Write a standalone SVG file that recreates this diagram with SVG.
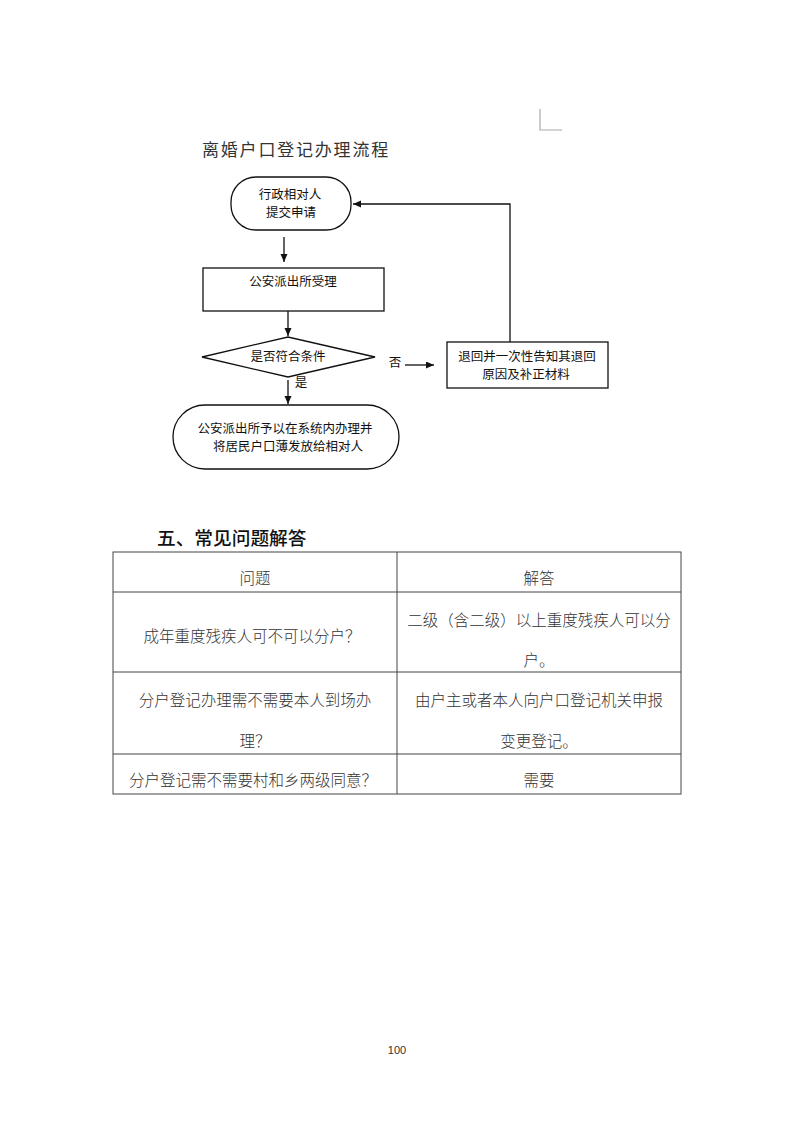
<svg xmlns="http://www.w3.org/2000/svg" width="793" height="1122" viewBox="0 0 793 1122">
<style>
.fc{font-family:"Noto Sans CJK SC","Noto Sans CJK JP",sans-serif;font-size:12.5px;fill:#111;text-anchor:middle}
.shape{fill:#fff;stroke:#111;stroke-width:1.3}
.conn{fill:none;stroke:#111;stroke-width:1.3}
.tb{font-family:"Noto Sans CJK SC","Noto Sans CJK JP",sans-serif;font-size:15.5px;font-weight:300;fill:#333;text-anchor:middle}
.grid{stroke:#444;stroke-width:1;fill:none}
</style>
<defs>
<marker id="ah" markerUnits="userSpaceOnUse" markerWidth="9" markerHeight="8" refX="8" refY="3.5" orient="auto">
<path d="M0,0 L8,3.5 L0,7 z" fill="#111"/>
</marker>
</defs>
<rect width="793" height="1122" fill="#fff"/>
<path d="M540,109 V130 H562" fill="none" stroke="#aaa" stroke-width="1.2"/>
<text x="202" y="156" font-family="Noto Sans CJK SC, sans-serif" font-size="17" letter-spacing="1.8" fill="#333">离婚户口登记办理流程</text>

<g id="connectors">
<line class="conn" x1="284" y1="237" x2="284" y2="262" marker-end="url(#ah)"/>
<line class="conn" x1="288" y1="311" x2="288" y2="336" marker-end="url(#ah)"/>
<line class="conn" x1="288" y1="380" x2="288" y2="404" marker-end="url(#ah)"/>
<line class="conn" x1="405" y1="365" x2="434" y2="365" marker-end="url(#ah)"/>
<polyline class="conn" points="510,342 510,204 353,204" marker-end="url(#ah)"/>
<text class="fc" x="301" y="387">是</text>
<text class="fc" x="395" y="367">否</text>
</g>

<g id="start">
<rect class="shape" x="231" y="177" width="120" height="53" rx="25" ry="25"/>
<text class="fc" x="290" y="199">行政相对人</text>
<text class="fc" x="291" y="217">提交申请</text>
</g>
<g id="accept">
<rect class="shape" x="203" y="268" width="181" height="43"/>
<text class="fc" x="293" y="286">公安派出所受理</text>
</g>
<g id="decision">
<polygon class="shape" points="202,357 288,337 375,357 288,377"/>
<text class="fc" x="288" y="361">是否符合条件</text>
</g>
<g id="end">
<rect class="shape" x="173" y="405" width="226" height="64" rx="32" ry="32"/>
<text class="fc" x="285" y="433">公安派出所予以在系统内办理并</text>
<text class="fc" x="288" y="451">将居民户口薄发放给相对人</text>
</g>
<g id="return">
<rect class="shape" x="447" y="342" width="161" height="46"/>
<text class="fc" x="527" y="361">退回并一次性告知其退回</text>
<text class="fc" x="526" y="379">原因及补正材料</text>
</g>

<text x="157" y="545" font-family="Noto Sans CJK SC, sans-serif" font-size="18.7" font-weight="500" fill="#111">五、常见问题解答</text>

<g id="table">
<rect class="grid" x="113" y="552" width="568" height="242"/>
<line class="grid" x1="397" y1="552" x2="397" y2="794"/>
<line class="grid" x1="113" y1="592" x2="681" y2="592"/>
<line class="grid" x1="113" y1="672" x2="681" y2="672"/>
<line class="grid" x1="113" y1="754" x2="681" y2="754"/>
<text class="tb" x="255" y="584">问题</text>
<text class="tb" x="539" y="584">解答</text>
<text class="tb" x="252" y="642">成年重度残疾人可不可以分户？</text>
<text class="tb" x="539" y="626">二级（含二级）以上重度残疾人可以分</text>
<text class="tb" x="539" y="666">户。</text>
<text class="tb" x="255" y="706">分户登记办理需不需要本人到场办</text>
<text class="tb" x="255" y="747">理？</text>
<text class="tb" x="539" y="706">由户主或者本人向户口登记机关申报</text>
<text class="tb" x="539" y="747">变更登记。</text>
<text class="tb" x="253" y="786">分户登记需不需要村和乡两级同意？</text>
<text class="tb" x="539" y="786">需要</text>
</g>

<text x="397" y="1054" font-family="Liberation Sans, sans-serif" font-size="11" fill="#333" text-anchor="middle">100</text>
</svg>
